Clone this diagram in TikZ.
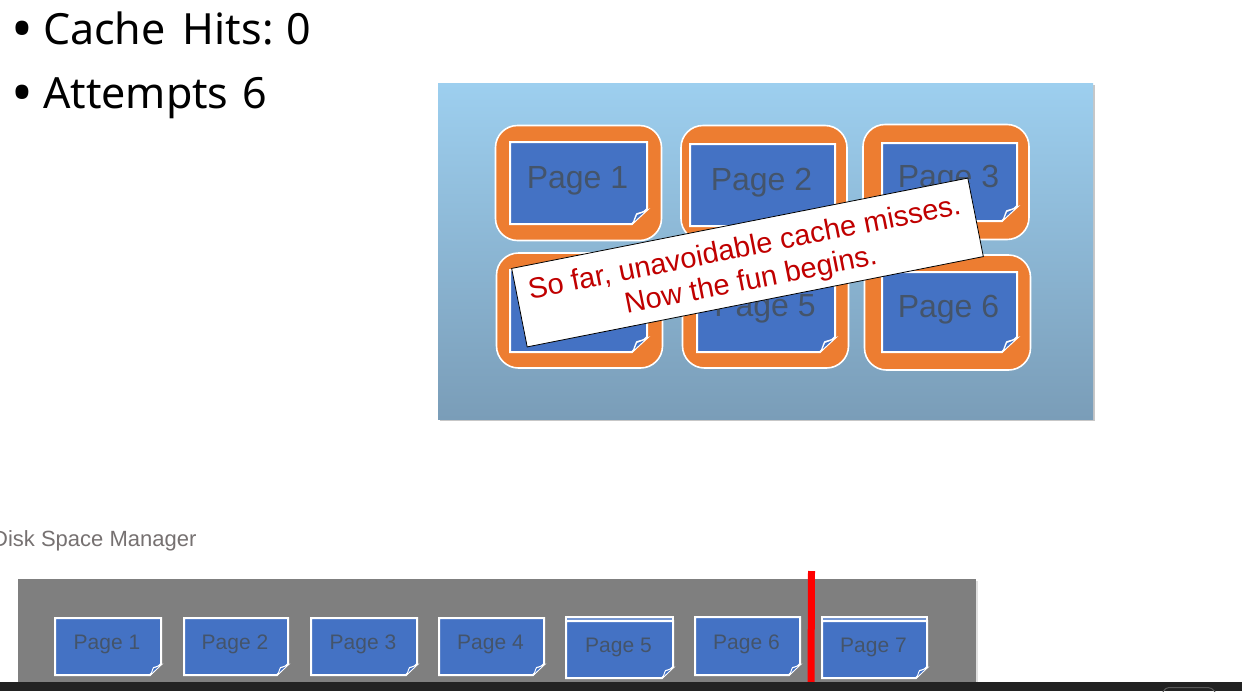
\documentclass[tikz,border=0pt]{standalone}
\usepackage{fontspec}
\setmainfont{Liberation Sans}
\newfontfamily\bulletfont{Noto Sans}
\definecolor{SlideTop}{HTML}{9DCFEF}
\definecolor{SlideEnd}{HTML}{7A9DB8}
\definecolor{Frame}{HTML}{ED7D31}
\definecolor{Sheet}{HTML}{4472C4}
\definecolor{SheetBack}{HTML}{7596D2}
\definecolor{Ink}{HTML}{44546A}
\definecolor{Warn}{HTML}{C00000}
\definecolor{Caption}{HTML}{767171}
\definecolor{Tray}{HTML}{7F7F7F}
\definecolor{Bar}{HTML}{222222}
\tikzset{
  frame/.style={draw=white,line width=1.6pt,fill=Frame,rounded corners=22pt,minimum width=166pt,minimum height=115pt},
  sheetline/.style={draw=white,line width=2pt,fill=Sheet,line join=miter},
  bullet/.style={anchor=base west,inner sep=0pt,font=\bulletfont\fontsize{43}{43}\selectfont}
}
\newcommand{\bigdot}{\raisebox{-5.5pt}{\scalebox{1.35}{•}}}
% right, bottom, fold
\newcommand{\foldcorner}[3]{
  \fill[white](#1-#3,#2+1)..controls(#1-#3*.85,#2-#3*.4)and(#1-#3*.75,#2-#3*.7)..(#1-#3*.7,#2-#3*.72)
    ..controls(#1-#3*.4,#2-#3*.8)..(#1+#3*.22,#2-#3*1.05)--cycle;
  \fill[Sheet](#1-#3*.82,#2-#3*.2)--(#1-#3*.66,#2-#3*.6)--(#1-#3*.2,#2-#3*.77)--cycle;
}
% name, left, top, right, bottom, fold, font size, label
\newcommand{\pagesheet}[8]{
  \filldraw[sheetline](#2,#3)--(#4,#3)--(#4,#5-#6)--(#4-#6,#5)--(#2,#5)--cycle;
  \foldcorner{#4}{#5}{#6}
  \node(#1)[text=Ink,font=\fontsize{#7}{#7}\selectfont]at({(#2+#4)/2-1},{(#3+#5)/2-2}){#8};
}
\begin{document}
\begin{tikzpicture}[x=1pt,y=-1pt]
  \useasboundingbox(0,0)rectangle(1242,691);
  \fill[white](0,0)rectangle(1242,691);
  % counters
  \node(hits)[bullet]at(11,44){\bigdot\hspace{10pt}Cache\hspace{6pt} Hits:\hspace{-2pt} 0};
  \node(tries)[bullet]at(11,108){\bigdot\hspace{10pt}Attempts\hspace{3pt} 6};
  % buffer pool
  \fill[black!22](440,85)rectangle(1094.5,421);
  \shade[top color=SlideTop,bottom color=SlideEnd](438,83)rectangle(1093,419);
  \node(frameA)[frame]at(578.5,183){};
  \node(frameB)[frame]at(764,183){};
  \node(frameC)[frame]at(946,182){};
  \node(frameD)[frame]at(579.5,310.5){};
  \node(frameE)[frame]at(765.5,310.5){};
  \node(frameF)[frame]at(947.5,312.5){};
  \pagesheet{poolA}{510}{142}{647}{224}{15}{32}{Page 1}
  \pagesheet{poolB}{690}{144}{835}{226}{15}{32}{Page 2}
  \pagesheet{poolC}{882}{143}{1017}{221}{15}{32}{Page 3}
  \pagesheet{poolD}{510}{270}{647}{352}{15}{32}{Page 4}
  \pagesheet{poolE}{697}{270}{835}{352}{15}{32}{Page 5}
  \pagesheet{poolF}{882}{272}{1017}{352}{15}{32}{Page 6}
  \node(note)[draw=black,line width=.8pt,fill=white,rotate=11.2,minimum width=465pt,minimum height=80pt]at(747.5,262.5){};
  \node(noteText)[rotate=11.2,align=center,text=Warn,font=\fontsize{29}{33}\selectfont]at(748,265.5)
    {So far, unavoidable cache misses.\\Now the fun begins.};
  % disk
  \node(disk)[anchor=base west,inner sep=0pt,text=Caption,font=\fontsize{22}{22}\selectfont]at(-8,546){Disk Space Manager};
  \fill[black!12](976,581)rectangle(978,682);
  \fill[Tray](18,579)rectangle(976,683);
  \pagesheet{diskA}{55}{618}{161}{675}{11}{21}{Page 1}
  \pagesheet{diskB}{184}{618}{288}{675}{11}{21}{Page 2}
  \pagesheet{diskC}{311}{618}{417}{675}{11}{21}{Page 3}
  \pagesheet{diskD}{439}{618}{544}{675}{11}{21}{Page 4}
  \filldraw[sheetline,fill=SheetBack](566,617)rectangle(673,630);
  \pagesheet{diskE}{566}{621}{673}{678}{11}{21}{Page 5}
  \pagesheet{diskF}{695}{617}{800}{675}{11}{21}{Page 6}
  \filldraw[sheetline,fill=SheetBack](822,617)rectangle(927,630);
  \pagesheet{diskG}{822}{621}{927}{678}{11}{21}{Page 7}
  \coordinate(cutTop)at(811.5,571);
  \coordinate(cutEnd)at(811,683);
  \draw[red,line width=7pt](cutTop)--(cutEnd);
  % window edge
  \fill[Bar](0,682)rectangle(1242,691);
  \draw[black!65,line width=1pt,rounded corners=4pt](1163,692)--(1165,687.5)--(1212,687.5)--(1215,692);
\end{tikzpicture}
\end{document}
